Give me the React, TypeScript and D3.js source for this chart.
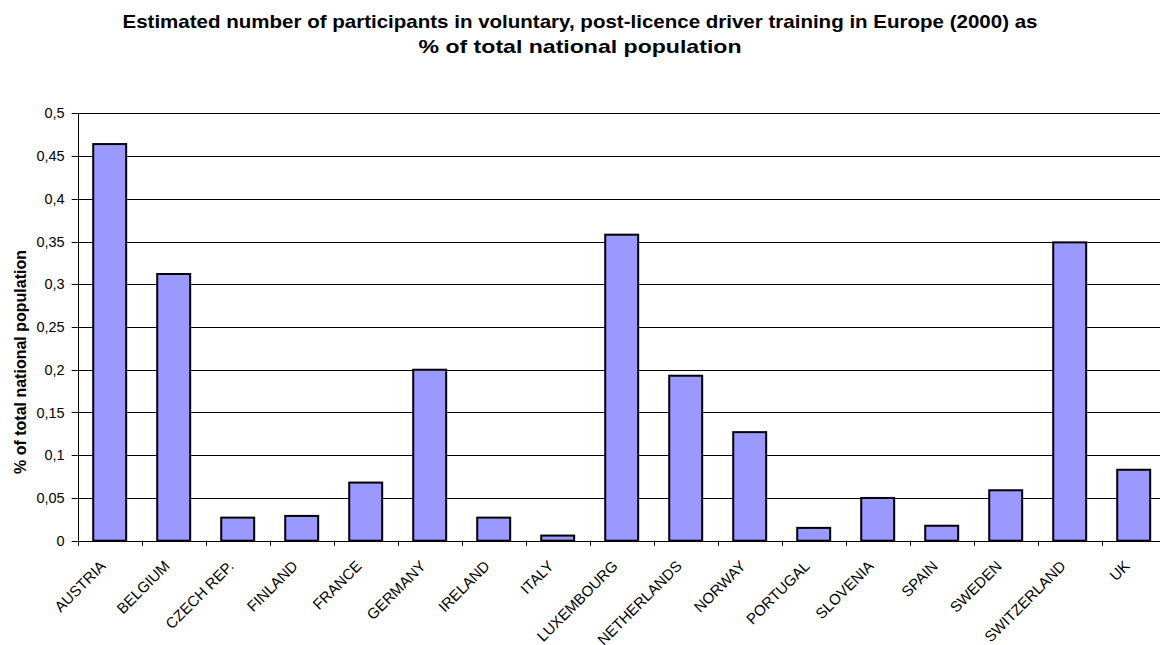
import React from "react";
import * as d3 from "d3";

const countries = [
  "AUSTRIA", "BELGIUM", "CZECH REP.", "FINLAND", "FRANCE", "GERMANY", "IRELAND",
  "ITALY", "LUXEMBOURG", "NETHERLANDS", "NORWAY", "PORTUGAL", "SLOVENIA", "SPAIN",
  "SWEDEN", "SWITZERLAND", "UK",
];
const values = [
  0.464, 0.312, 0.027, 0.029, 0.068, 0.2, 0.027, 0.006, 0.358, 0.193, 0.127,
  0.015, 0.05, 0.0175, 0.059, 0.349, 0.083,
];
const yTicks = [0, 0.05, 0.1, 0.15, 0.2, 0.25, 0.3, 0.35, 0.4, 0.45, 0.5];
const titleLines = [
  "Estimated number of participants in voluntary, post-licence driver training in Europe (2000) as",
  "% of total national population",
];
const titleWidths = [915, 323];
const yAxisTitle = "% of total national population";

const W = 1160, H = 645;
const left = 77.7, top = 113.3, bottom = 540.7;
const step = 64;
const right = left + step * countries.length;

export default function App() {
  const x = d3.scaleBand<string>().domain(countries).range([left, right]).paddingInner(0.485).paddingOuter(0.2425);
  const y = d3.scaleLinear().domain([0, 0.5]).range([bottom, top]);
  const fmt = (v: number) => String(+v.toFixed(2)).replace(".", ",");
  const font = "'Liberation Sans', Arial, sans-serif";
  const boundaries = d3.range(countries.length + 1).map((i) => left + i * step);
  return (
    <svg width={W} height={H} style={{ position: "absolute", left: 0, top: 0, background: "#fff" }} fontFamily={font}>
      {titleLines.map((t, i) => (
        <text key={i} x={580} y={28 + i * 25} textAnchor="middle" fontWeight="bold" fontSize={18.5}
          textLength={titleWidths[i]} lengthAdjust="spacingAndGlyphs">{t}</text>
      ))}
      {yTicks.map((t) => (
        <g key={t}>
          <line x1={left} x2={W + 10} y1={Math.round(y(t)) + 0.5} y2={Math.round(y(t)) + 0.5} stroke="#000" strokeWidth={1} />
          <line x1={left - 6} x2={left} y1={Math.round(y(t)) + 0.5} y2={Math.round(y(t)) + 0.5} stroke="#000" />
          <text x={left - 13} y={y(t)} dy="0.35em" textAnchor="end" fontSize={14.5}>{fmt(t)}</text>
        </g>
      ))}
      <line x1={Math.round(left) + 0.5} x2={Math.round(left) + 0.5} y1={top} y2={bottom} stroke="#000" />
      {boundaries.map((b, i) => (
        <line key={i} x1={Math.round(b) + 0.5} x2={Math.round(b) + 0.5} y1={bottom} y2={bottom + 5} stroke="#000" />
      ))}
      {countries.map((c, i) => (
        <rect key={c} x={x(c)} y={y(values[i])} width={x.bandwidth()} height={bottom - y(values[i])}
          fill="#9999FF" stroke="#000" strokeWidth={2} />
      ))}
      {countries.map((c) => {
        const cx = (x(c) as number) + x.bandwidth() / 2;
        return (
          <text key={c} transform={`translate(${cx - 3},${567}) rotate(-45)`} textAnchor="end" fontSize={15}>{c}</text>
        );
      })}
      <text transform={`translate(26,${362}) rotate(-90)`} textAnchor="middle" fontWeight="bold" fontSize={16}>{yAxisTitle}</text>
    </svg>
  );
}
